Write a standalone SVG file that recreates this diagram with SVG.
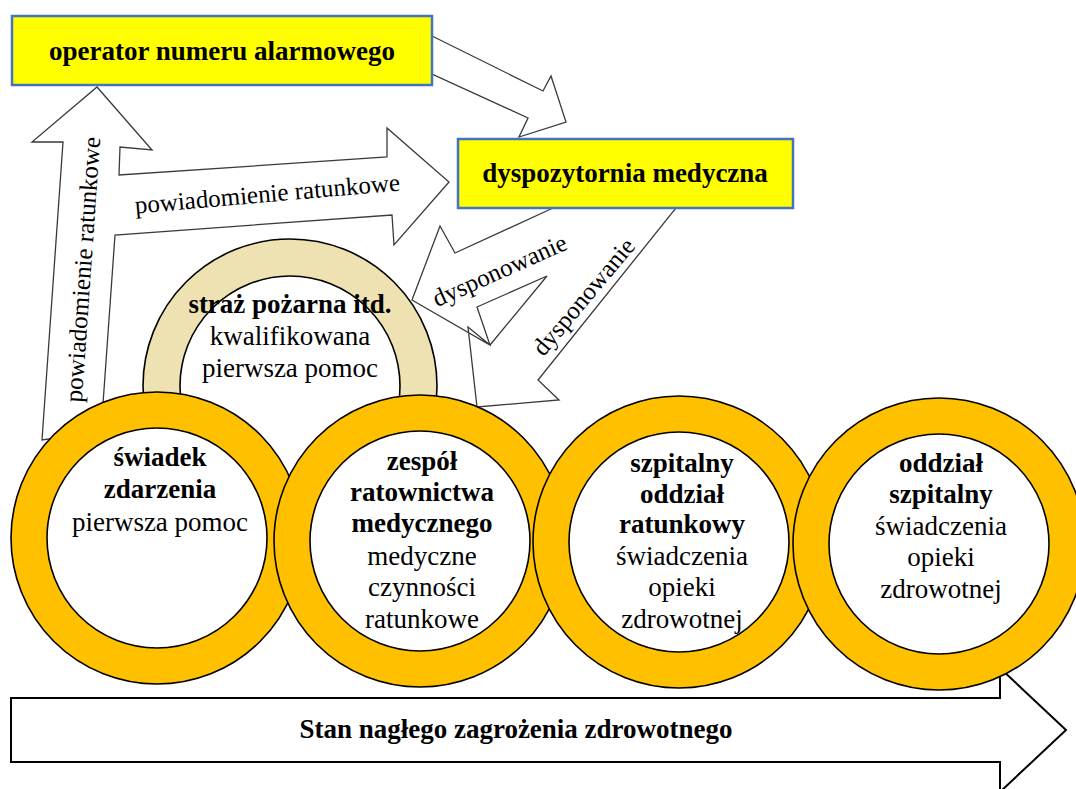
<svg xmlns="http://www.w3.org/2000/svg" width="1076" height="789" viewBox="0 0 1076 789">
<style>
.arr{fill:#fff;stroke:#3a3a3a;stroke-width:1.3;stroke-linejoin:miter}
.box{fill:#ffff00;stroke:#4472c4;stroke-width:2.5}
.ringo{fill:#ffc000;stroke:#000;stroke-width:1.6}
.tano{fill:#eee1b2;stroke:#000;stroke-width:1.6}
.ringi{fill:#fff;stroke:#000;stroke-width:1.6}
.h{font-size:27px;font-weight:bold;text-anchor:middle}
.b{font-size:27px;font-weight:bold;text-anchor:middle}
.n{font-size:27px;text-anchor:middle}
.lbl{font-size:25px;text-anchor:middle}
</style>
<rect width="1076" height="789" fill="#fff"/>
<g font-family="Liberation Serif, DejaVu Serif, serif" fill="#000">
<g id="connectors">
  <path class="arr" d="M42,440 L63,142 L32,142 L97,87 L152,150 L120,147 L119,175 L387,157 L387,128 L449,182 L394,245 L392,215 L115,235 L101,432 Z"/>
  <text class="lbl" transform="translate(91,270) rotate(-86)">powiadomienie ratunkowe</text>
  <text class="lbl" transform="translate(268,202) rotate(-5)">powiadomienie ratunkowe</text>
  <path class="arr" d="M432,36 L543,91 L551,76 L566,122 L519,137 L528,118 L432,74 Z"/>
  <path class="arr" d="M553,208 L455,253 L440,226 L412,300 L490,345 L477,307 L547,276 L490,345 L468,327 L477,407 L559,400 L538,380 L676,208 Z"/>
  <text class="lbl" transform="translate(503,278) rotate(-24)">dysponowanie</text>
  <text class="lbl" transform="translate(590,302) rotate(-50)">dysponowanie</text>
</g>
<g id="stan">
  <path class="arr" style="stroke:#000;stroke-width:2" d="M11,698 L1000,698 L1000,668 L1066,730 L1000,792 L1000,762 L11,762 Z"/>
  <text class="b" x="516" y="738">Stan nagłego zagrożenia zdrowotnego</text>
</g>
<g id="straz">
  <circle class="tano" cx="290" cy="386" r="147"/>
  <circle class="ringi" cx="290" cy="386" r="110"/>
  <text class="b" x="290" y="313">straż pożarna itd.</text>
  <text class="n" x="290" y="345">kwalifikowana</text>
  <text class="n" x="290" y="377">pierwsza pomoc</text>
</g>
<g id="swiadek">
  <circle class="ringo" cx="157" cy="538" r="146"/>
  <circle class="ringi" cx="157" cy="538" r="110"/>
  <text class="b" x="160" y="466">świadek</text>
  <text class="b" x="160" y="498">zdarzenia</text>
  <text class="n" x="160" y="531">pierwsza pomoc</text>
</g>
<g id="zrm">
  <circle class="ringo" cx="420" cy="541" r="146"/>
  <circle class="ringi" cx="420" cy="541" r="110"/>
  <text class="b" x="422" y="470">zespół</text>
  <text class="b" x="422" y="501">ratownictwa</text>
  <text class="b" x="422" y="532">medycznego</text>
  <text class="n" x="422" y="565">medyczne</text>
  <text class="n" x="422" y="596">czynności</text>
  <text class="n" x="422" y="628">ratunkowe</text>
</g>
<g id="sor">
  <circle class="ringo" cx="679" cy="542" r="146"/>
  <circle class="ringi" cx="679" cy="542" r="110"/>
  <text class="b" x="682" y="472">szpitalny</text>
  <text class="b" x="682" y="503">oddział</text>
  <text class="b" x="682" y="533">ratunkowy</text>
  <text class="n" x="682" y="565">świadczenia</text>
  <text class="n" x="682" y="596">opieki</text>
  <text class="n" x="682" y="628">zdrowotnej</text>
</g>
<g id="oddzial">
  <circle class="ringo" cx="939" cy="544" r="146"/>
  <circle class="ringi" cx="939" cy="544" r="110"/>
  <text class="b" x="941" y="472">oddział</text>
  <text class="b" x="941" y="503">szpitalny</text>
  <text class="n" x="941" y="535">świadczenia</text>
  <text class="n" x="941" y="566">opieki</text>
  <text class="n" x="941" y="598">zdrowotnej</text>
</g>
<g id="operator">
  <rect class="box" x="12" y="16" width="420" height="69"/>
  <text class="h" x="222" y="60">operator numeru alarmowego</text>
</g>
<g id="dyspozytornia">
  <rect class="box" x="458" y="139" width="335" height="69"/>
  <text class="h" x="625" y="182">dyspozytornia medyczna</text>
</g>
</g>
</svg>
